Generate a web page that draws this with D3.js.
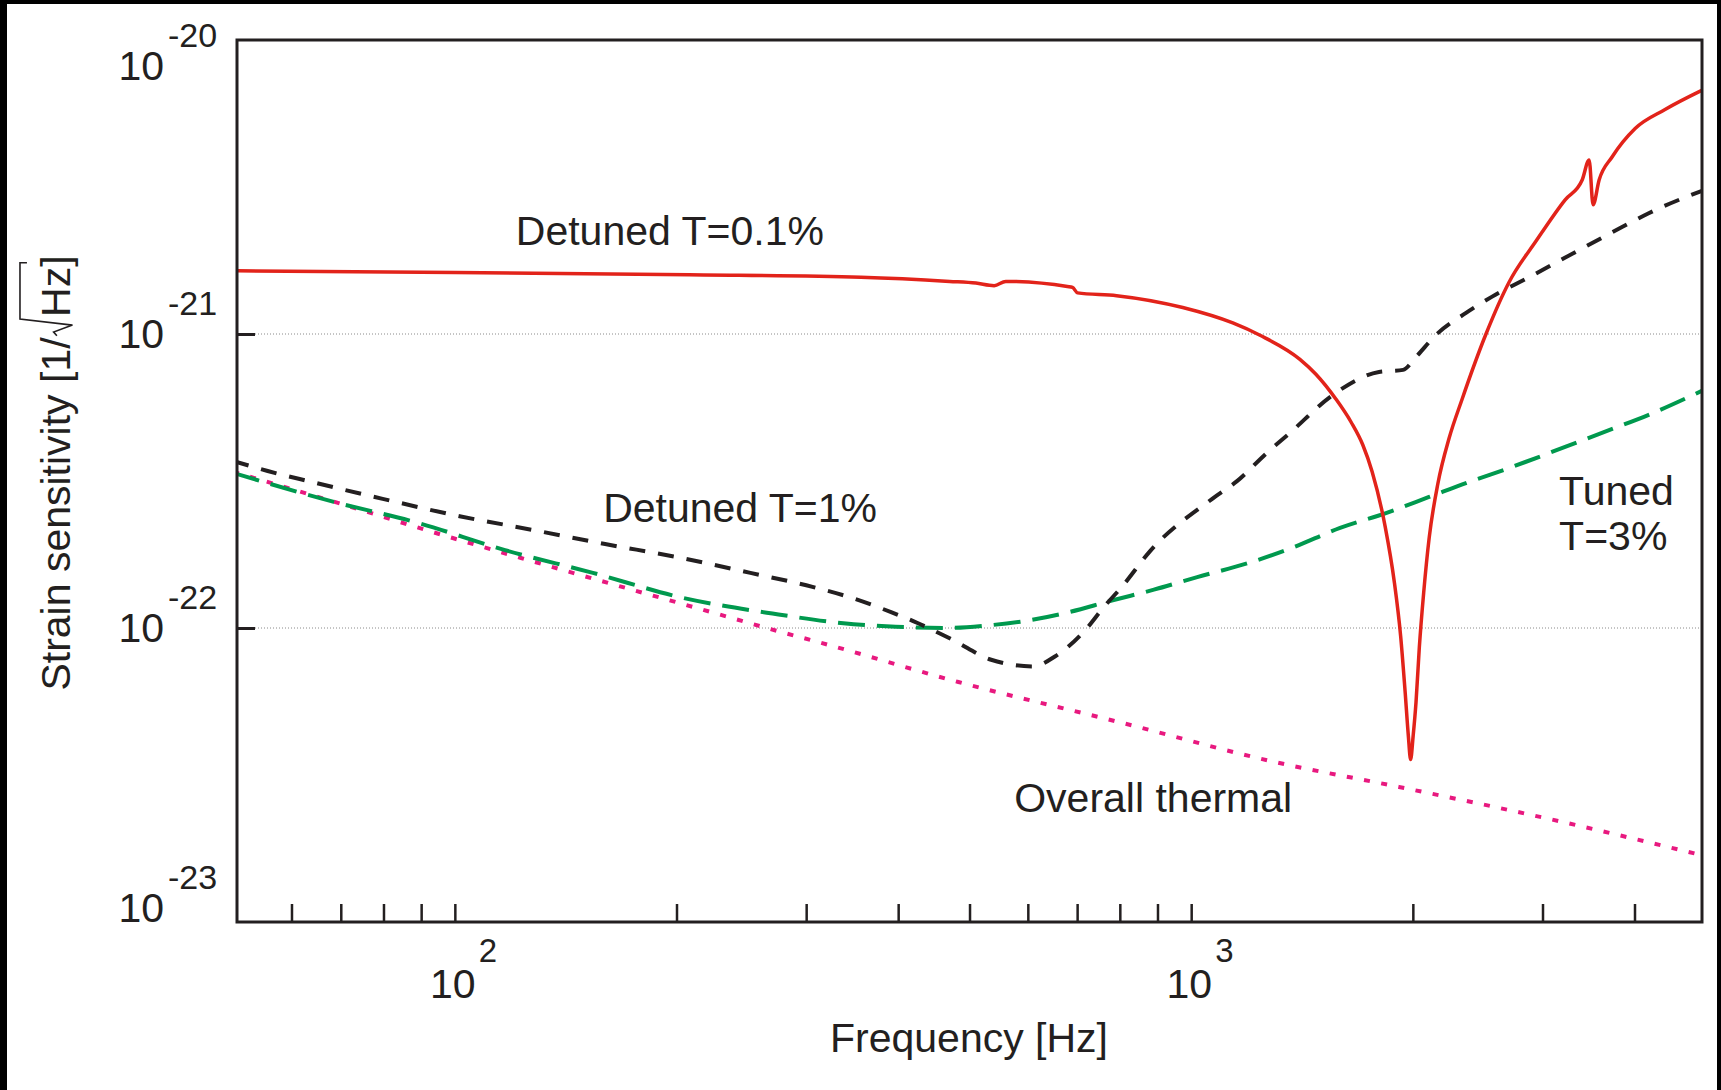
<!DOCTYPE html>
<html>
<head>
<meta charset="utf-8">
<script src="https://cdn.jsdelivr.net/npm/d3@7"></script>
<style>
  body { margin: 0; background: #fff; }
  svg { display: block; }
  text { font-family: "Liberation Sans", Arial, sans-serif; fill: #231f20; }
</style>
</head>
<body>
<div id="chart"></div>
<script>

// values: [frequency Hz, strain 1/sqrt(Hz)]
var detuned_01 = [
  [50, 1.64e-21], [100, 1.62e-21], [208, 1.59e-21], [356, 1.56e-21], [470, 1.51e-21],
  [510, 1.49e-21], [540, 1.46e-21], [560, 1.51e-21], [679, 1.45e-21], [690, 1.44e-21],
  [701, 1.38e-21], [792, 1.35e-21], [974, 1.23e-21], [1139, 1.09e-21], [1240, 9.9e-22],
  [1405, 8.2e-22], [1477, 7.3e-22], [1573, 6.0e-22], [1650, 5.0e-22], [1710, 4.2e-22],
  [1761, 3.4e-22], [1835, 2.2e-22], [1887, 1.44e-22], [1925, 9.4e-23], [1952, 6.1e-23],
  [1972, 4.3e-23], [1986, 3.57e-23], [2002, 4.3e-23], [2020, 5.6e-23], [2041, 8.6e-23],
  [2069, 1.32e-22], [2105, 2.03e-22], [2163, 3.1e-22], [2239, 4.4e-22], [2333, 6.0e-22],
  [2514, 1.0e-21], [2702, 1.5e-21], [2940, 2.07e-21], [3220, 2.86e-21],
  [3396, 3.34e-21], [3471, 3.91e-21], [3514, 2.75e-21], [3581, 3.34e-21], [3729, 4.0e-21],
  [4008, 5.0e-21], [4401, 5.8e-21], [4974, 6.8e-21]
];

var detuned_1 = [
  [50, 3.70e-22], [55.7, 3.42e-22], [63.9, 3.14e-22], [79.8, 2.75e-22], [101.5, 2.40e-22],
  [127, 2.16e-22], [160, 1.93e-22], [201, 1.74e-22], [252, 1.54e-22], [306, 1.38e-22],
  [348, 1.26e-22], [392, 1.13e-22], [425, 1.04e-22], [475, 9.1e-23], [535, 7.8e-23],
  [610, 7.4e-23], [653, 8.0e-23], [722, 1.0e-22], [759, 1.17e-22], [805, 1.38e-22],
  [880, 1.83e-22], [1068, 2.75e-22], [1154, 3.16e-22], [1267, 3.94e-22], [1362, 4.61e-22],
  [1558, 6.21e-22], [1799, 7.43e-22], [1940, 7.55e-22], [2020, 8.36e-22], [2150, 9.93e-22],
  [2362, 1.18e-21], [2563, 1.34e-21], [2877, 1.56e-21], [3428, 1.98e-21], [3847, 2.31e-21],
  [4188, 2.58e-21], [4974, 3.09e-21]
];

var tuned_3 = [
  [50, 3.37e-22], [68.3, 2.69e-22], [89, 2.28e-22], [117, 1.84e-22], [154, 1.54e-22],
  [203, 1.27e-22], [270, 1.12e-22], [348, 1.03e-22], [397, 1.01e-22], [466, 1.00e-22],
  [529, 1.02e-22], [600, 1.06e-22], [680, 1.13e-22], [780, 1.24e-22], [890, 1.35e-22],
  [1019, 1.49e-22], [1202, 1.67e-22], [1375, 1.88e-22], [1593, 2.19e-22], [1839, 2.46e-22],
  [2104, 2.79e-22], [2385, 3.14e-22], [2702, 3.50e-22], [3220, 4.13e-22], [3694, 4.71e-22],
  [4174, 5.30e-22], [4974, 6.46e-22]
];

var thermal = [
  [50, 3.40e-22], [70.9, 2.62e-22], [93.3, 2.12e-22], [123, 1.73e-22], [162, 1.42e-22],
  [213, 1.17e-22], [277, 9.7e-23], [312, 8.95e-23], [483, 6.55e-23], [797, 4.79e-23],
  [1300, 3.50e-23], [1915, 2.88e-23], [2903, 2.31e-23], [4974, 1.68e-23]
];

var x_ticks = [60, 70, 80, 90, 100, 200, 300, 400, 500, 600, 700, 800, 900, 1000, 2000, 3000, 4000];
var x_decades = [2, 3];
var y_decades = [-20, -21, -22, -23];
var y_grid = [1e-21, 1e-22];

// labels anchored in data units
var notes = [
  {lines: ["Detuned T=0.1%"], f: 121, h: 2.01e-21},
  {lines: ["Detuned T=1%"], f: 159, h: 2.29e-22},
  {lines: ["Tuned", "T=3%"], f: 3160, h: 2.62e-22},
  {lines: ["Overall thermal"], f: 575, h: 2.37e-23}
];


var svg_width = 1721;
var svg_height = 1090;
var plot = {left: 237, right: 1702, top: 40, bottom: 922};
var ink = "#231f20";

var svg = d3.select("#chart")
  .append("svg")
    .attr("width", svg_width)
    .attr("height", svg_height);

svg.append("rect").attr("width", svg_width).attr("height", svg_height).attr("fill", "#fff");

// black border on the scan (top, left, right)
svg.append("rect").attr("x", 0).attr("y", 0).attr("width", svg_width).attr("height", 4).attr("fill", "#000");
svg.append("rect").attr("x", 0).attr("y", 0).attr("width", 7).attr("height", svg_height).attr("fill", "#000");
svg.append("rect").attr("x", svg_width - 4).attr("y", 0).attr("width", 4).attr("height", svg_height).attr("fill", "#000");

var x = d3.scaleLog().domain([50.6, 4940]).range([plot.left, plot.right]);
var y = d3.scaleLog().domain([1e-23, 1e-20]).range([plot.bottom, plot.top]);

// dotted grid at the inner decades
svg.append("g")
  .selectAll("line")
  .data(y_grid)
  .enter()
  .append("line")
    .attr("x1", plot.left + 18)
    .attr("x2", plot.right)
    .attr("y1", d => y(d))
    .attr("y2", d => y(d))
    .attr("stroke", "#8a8a8a")
    .attr("stroke-width", 1)
    .attr("stroke-dasharray", "1,2");

// x ticks (inside, from the bottom)
var xAxis = svg.append("g")
  .attr("transform", "translate(0," + plot.bottom + ")")
  .call(d3.axisBottom(x).tickValues(x_ticks).tickSize(-18).tickFormat(""));
xAxis.select(".domain").remove();
xAxis.selectAll(".tick line").attr("stroke", ink).attr("stroke-width", 2.5);

// y ticks
var yAxis = svg.append("g")
  .attr("transform", "translate(" + plot.left + ",0)")
  .call(d3.axisLeft(y).tickValues(y_grid).tickSize(-18).tickFormat(""));
yAxis.select(".domain").remove();
yAxis.selectAll(".tick line").attr("stroke", ink).attr("stroke-width", 3);

// curves
svg.append("clipPath").attr("id", "clip")
  .append("rect")
    .attr("x", plot.left).attr("y", plot.top)
    .attr("width", plot.right - plot.left).attr("height", plot.bottom - plot.top);

var line = d3.line()
  .x(d => x(d[0]))
  .y(d => y(d[1]))
  .curve(d3.curveMonotoneX);

var curves = svg.append("g").attr("clip-path", "url(#clip)");

curves.append("path").datum(thermal)
  .attr("d", line).attr("fill", "none")
  .attr("stroke", "#e8197f").attr("stroke-width", 4)
  .attr("stroke-dasharray", "6,11.5");

curves.append("path").datum(tuned_3)
  .attr("d", line).attr("fill", "none")
  .attr("stroke", "#00994e").attr("stroke-width", 4)
  .attr("stroke-dasharray", "27,12");

curves.append("path").datum(detuned_1)
  .attr("d", line).attr("fill", "none")
  .attr("stroke", "#231f20").attr("stroke-width", 4)
  .attr("stroke-dasharray", "16,13");

curves.append("path").datum(detuned_01)
  .attr("d", line).attr("fill", "none")
  .attr("stroke", "#e2231a").attr("stroke-width", 3.5)
  .attr("stroke-linejoin", "round");

// frame
svg.append("rect")
  .attr("x", plot.left).attr("y", plot.top)
  .attr("width", plot.right - plot.left).attr("height", plot.bottom - plot.top)
  .attr("fill", "none").attr("stroke", ink).attr("stroke-width", 3);

// y tick labels 10^n
var ylab = svg.append("g")
  .selectAll("g")
  .data(y_decades)
  .enter()
  .append("g")
    .attr("transform", function(d) {
      var base = Math.min(Math.max(y(Math.pow(10, d)) + 14, plot.top + 40), plot.bottom);
      return "translate(0," + base + ")";
    });
ylab.append("text")
  .attr("x", 164).attr("text-anchor", "end")
  .attr("font-size", 41)
  .text("10");
ylab.append("text")
  .attr("x", 168).attr("y", -33)
  .attr("font-size", 34)
  .text(d => "-" + Math.abs(d));

// x tick labels 10^n
var xlab = svg.append("g")
  .selectAll("g")
  .data(x_decades)
  .enter()
  .append("g")
    .attr("transform", d => "translate(" + x(Math.pow(10, d)) + ",998)");
xlab.append("text")
  .attr("x", -2).attr("text-anchor", "middle")
  .attr("font-size", 41)
  .text("10");
xlab.append("text")
  .attr("x", 24).attr("y", -36)
  .attr("font-size", 33)
  .text(d => d);

// axis titles
svg.append("text")
  .attr("x", 969).attr("y", 1052)
  .attr("text-anchor", "middle")
  .attr("font-size", 41)
  .text("Frequency [Hz]");

var fs = 41;
var ytitle = svg.append("g").attr("transform", "translate(70,473) rotate(-90)");
var yt = ytitle.append("text").attr("font-size", fs);
yt.append("tspan").text("Strain sensitivity [1/");
yt.append("tspan").attr("dx", fs * 0.5).text("Hz]");
var L = yt.node().getComputedTextLength() + fs * 0.5;
yt.attr("x", -L / 2);
yt.select("tspan").attr("x", -L / 2);

var n = yt.node();
var x0 = n.getEndPositionOfChar(21).x;
var xh = n.getStartPositionOfChar(22).x;
var xz = n.getEndPositionOfChar(23).x;
ytitle.append("path")
  .attr("d", "M" + (x0 + fs * 0.04) + "," + (-fs * 0.32) +
             "L" + (x0 + fs * 0.13) + "," + (-fs * 0.4) +
             "L" + (x0 + fs * 0.3) + "," + (fs * 0.06) +
             "L" + (xh - fs * 0.05) + "," + (-fs * 1.22) +
             "L" + (xz + fs * 0.1) + "," + (-fs * 1.22) +
             "L" + (xz + fs * 0.1) + "," + (-fs * 1.05))
  .attr("fill", "none")
  .attr("stroke", ink)
  .attr("stroke-width", 1.6);

// curve labels
var note = svg.append("g")
  .selectAll("text")
  .data(notes)
  .enter()
  .append("text")
    .attr("font-size", 41)
    .attr("x", d => x(d.f))
    .attr("y", d => y(d.h));
note.selectAll("tspan")
  .data(d => d.lines.map(t => ({t: t, x: x(d.f)})))
  .enter()
  .append("tspan")
    .attr("x", d => d.x)
    .attr("dy", (d, i) => i === 0 ? 0 : 45)
    .text(d => d.t);

</script>
</body>
</html>
